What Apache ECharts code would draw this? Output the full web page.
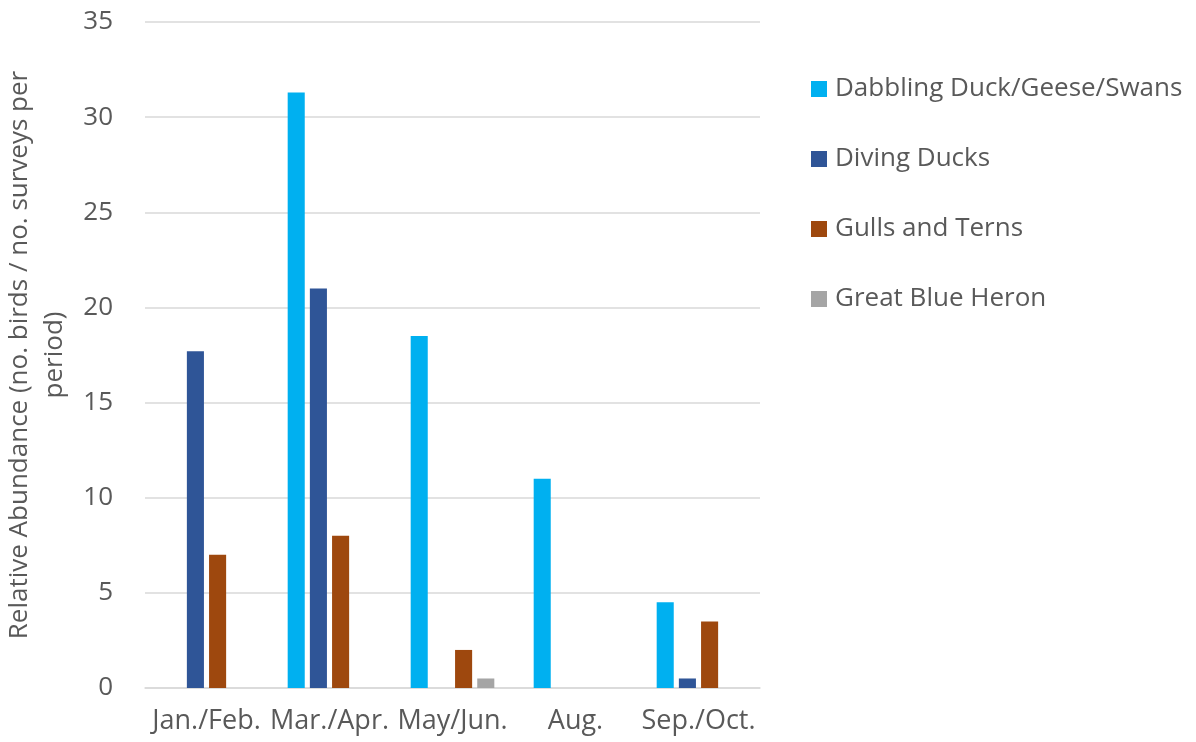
<!DOCTYPE html>
<html>
<head>
<meta charset="utf-8">
<script src="https://cdn.jsdelivr.net/npm/echarts@6/dist/echarts.min.js"></script>
<style>
  html, body { margin: 0; padding: 0; background: #fff; }
  #chart { width: 1196px; height: 742px; }
</style>
</head>
<body>
<div id="chart"></div>
<script>
// Survey periods along the x axis
const periods = ['Jan./Feb.', 'Mar./Apr.', 'May/Jun.', 'Aug.', 'Sep./Oct.'];

// Relative abundance per bird group (no. birds / no. surveys per period)
const dabblingDuckGeeseSwans = [0, 31.3, 18.5, 11, 4.5];
const divingDucks = [17.7, 21, 0, 0, 0.5];
const gullsAndTerns = [7, 8, 2, 0, 3.5];
const greatBlueHeron = [0, 0, 0.5, 0, 0];

const yTicks = { min: 0, max: 35, interval: 5 };

const FONT = 'Open Sans';
const TEXT = '#595959';

const chart = echarts.init(document.getElementById('chart'), null, { renderer: 'canvas' });

function bar(name, data, color) {
  return {
    name: name,
    type: 'bar',
    data: data,
    barGap: '30%',
    barCategoryGap: '32%',
    itemStyle: { color: color },
    emphasis: { disabled: true }
  };
}

chart.setOption({
  animation: false,
  textStyle: { fontFamily: FONT },
  grid: { left: 145, right: 436, top: 22, bottom: 54, containLabel: false, outerBoundsMode: 'none' },
  legend: {
    orient: 'vertical',
    left: 806,
    top: 71,
    itemWidth: 16,
    itemHeight: 16,
    itemGap: 44,
    icon: 'rect',
    selectedMode: false,
    textStyle: { fontFamily: FONT, fontSize: 26, color: TEXT, padding: [0, 0, 0, 3] },
    data: ['Dabbling Duck/Geese/Swans', 'Diving Ducks', 'Gulls and Terns', 'Great Blue Heron']
  },
  xAxis: {
    type: 'category',
    data: periods,
    axisLine: { lineStyle: { color: '#D9D9D9', width: 1.5 } },
    axisTick: { show: false },
    axisLabel: { fontFamily: FONT, fontSize: 27, color: TEXT, margin: 20, interval: 0 }
  },
  yAxis: {
    type: 'value',
    min: yTicks.min,
    max: yTicks.max,
    interval: yTicks.interval,
    name: 'Relative Abundance (no. birds / no. surveys per\nperiod)',
    nameLocation: 'middle',
    nameRotate: 90,
    nameGap: 64,
    nameTextStyle: { fontFamily: FONT, fontSize: 26, color: TEXT, lineHeight: 35 },
    axisLine: { show: false },
    axisTick: { show: false },
    axisLabel: { fontFamily: FONT, fontSize: 26, color: TEXT, margin: 32 },
    splitLine: { lineStyle: { color: '#D9D9D9', width: 1.5 } }
  },
  series: [
    bar('Dabbling Duck/Geese/Swans', dabblingDuckGeeseSwans, '#00B0F0'),
    bar('Diving Ducks', divingDucks, '#2F5597'),
    bar('Gulls and Terns', gullsAndTerns, '#9E480E'),
    bar('Great Blue Heron', greatBlueHeron, '#A5A5A5')
  ]
});
</script>
</body>
</html>
